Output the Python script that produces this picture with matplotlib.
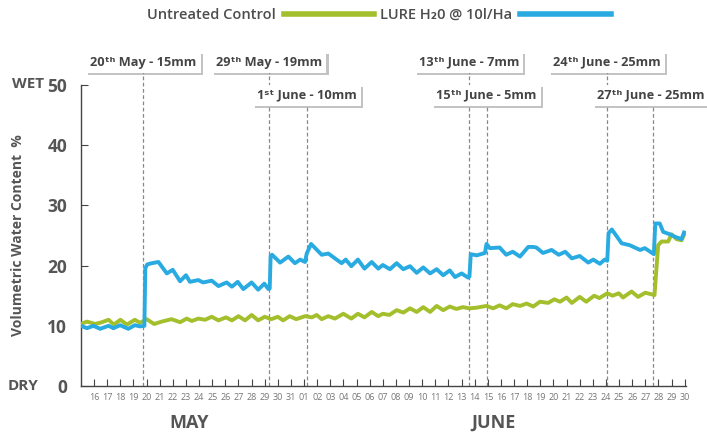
import matplotlib
matplotlib.use('Agg')
import matplotlib.pyplot as plt
import matplotlib.patheffects as pe

plt.rcParams['font.family'] = ['Open Sans', 'DejaVu Sans']

# days counted from 1 May (32 = 1 June)
control_day = [15.0, 15.45, 16.08, 16.6, 17.1, 17.5, 18.0, 18.5, 19.1, 19.5, 20.0, 20.57, 21.15, 21.9,
               22.55, 23.06, 23.44, 23.94, 24.45, 24.96, 25.47, 26.05, 26.5, 27.0, 27.5, 28.0, 28.5, 29.0,
               29.5, 30.0, 30.4, 30.9, 31.4, 32.07, 32.6, 32.96, 33.34, 33.84, 34.35, 34.99, 35.6, 36.1,
               36.6, 37.15, 37.65, 38.0, 38.5, 39.05, 39.56, 40.07, 40.58, 41.08, 41.6, 42.1, 42.6, 43.1,
               43.6, 44.1, 44.6, 45.1, 45.9, 46.4, 46.9, 47.4, 47.9, 48.45, 48.96, 49.46, 49.97, 50.6,
               51.06, 51.5, 52.0, 52.4, 53.0, 53.5, 54.1, 54.5, 55.1, 55.5, 55.98, 56.3, 56.95, 57.45,
               58.0, 58.7, 58.98, 59.24, 59.74, 60.0, 60.38, 60.76, 60.95]
control_vwc = [10.3, 10.7, 10.3, 10.6, 11.0, 10.2, 11.0, 10.2, 11.0, 10.5, 11.1, 10.3, 10.7, 11.1,
               10.6, 11.2, 10.8, 11.2, 11.0, 11.5, 10.9, 11.4, 10.9, 11.6, 10.9, 11.8, 10.9, 11.5,
               11.1, 11.5, 10.9, 11.6, 11.1, 11.6, 11.4, 11.8, 11.1, 11.6, 11.2, 12.0, 11.2, 12.0,
               11.4, 12.3, 11.6, 12.0, 11.8, 12.6, 12.2, 12.9, 12.3, 13.1, 12.3, 13.3, 12.6, 13.2,
               12.8, 13.1, 12.9, 13.0, 13.3, 12.9, 13.4, 12.9, 13.6, 13.3, 13.7, 13.2, 14.0, 13.8,
               14.4, 14.0, 14.7, 13.8, 14.8, 14.0, 15.0, 14.6, 15.4, 15.0, 15.4, 14.7, 15.7, 14.8,
               15.5, 15.1, 23.4, 24.0, 24.0, 25.2, 24.4, 24.2, 25.1]

lure_day = [15.0, 15.45, 15.95, 16.46, 17.1, 17.47, 17.98, 18.6, 19.1, 19.5, 19.83, 19.9, 20.05, 20.4,
            20.9, 21.54, 21.99, 22.55, 23.0, 23.3, 23.94, 24.3, 24.96, 25.47, 26.1, 26.5, 26.94, 27.37,
            28.0, 28.5, 28.97, 29.28, 29.38, 29.45, 29.56, 30.17, 30.8, 31.3, 31.7, 32.07, 32.2, 32.53,
            33.34, 33.85, 34.35, 34.86, 35.17, 35.6, 36.1, 36.6, 37.15, 37.65, 38.0, 38.54, 39.05, 39.56,
            40.07, 40.58, 41.08, 41.6, 42.1, 42.6, 43.1, 43.5, 44.0, 44.5, 44.6, 44.7, 45.15, 45.78,
            45.9, 46.15, 46.9, 47.4, 47.9, 48.45, 49.08, 49.46, 49.7, 50.2, 50.86, 51.4, 51.9, 52.4,
            53.0, 53.65, 54.03, 54.54, 54.9, 55.1, 55.2, 55.45, 56.2, 56.8, 57.6, 57.96, 58.65, 58.76,
            59.1, 59.36, 59.87, 60.25, 60.76, 60.95]
lure_vwc = [10.0, 9.6, 10.0, 9.5, 10.0, 9.6, 10.1, 9.5, 10.1, 9.9, 10.0, 19.6, 20.2, 20.4,
            20.6, 18.7, 19.3, 17.4, 18.4, 17.3, 17.6, 17.2, 17.5, 16.6, 17.2, 16.5, 17.3, 16.1,
            17.2, 16.0, 17.0, 16.1, 16.2, 21.6, 21.8, 20.5, 21.5, 20.4, 21.0, 20.6, 22.0, 23.6,
            21.8, 22.0, 21.2, 20.4, 21.0, 19.9, 21.0, 19.5, 20.6, 19.5, 20.1, 19.4, 20.4, 19.4,
            19.9, 18.8, 19.7, 18.7, 19.4, 18.4, 19.2, 18.1, 18.7, 18.0, 18.2, 21.9, 21.7, 22.1,
            23.6, 22.9, 23.0, 21.8, 22.3, 21.5, 23.1, 23.1, 23.0, 22.1, 22.6, 21.8, 22.3, 21.2,
            21.6, 20.5, 21.0, 20.3, 21.0, 20.8, 25.4, 26.0, 23.7, 23.4, 22.6, 22.9, 21.9, 27.0,
            27.0, 25.6, 25.2, 24.8, 24.4, 25.5]

tick_days = list(range(16, 62))
tick_labels = [str(d) for d in range(16, 32)] + ['%02d' % d for d in range(1, 31)]

rain_day = [19.75, 29.35, 32.2, 44.55, 45.9, 55.05, 58.6]
rain_text = ['20ᵗʰ May - 15mm', '29ᵗʰ May - 19mm', '1ˢᵗ June - 10mm', '13ᵗʰ June - 7mm',
             '15ᵗʰ June - 5mm', '24ᵗʰ June - 25mm', '27ᵗʰ June - 25mm']
rain_row = [0, 0, 1, 0, 1, 0, 1]

green = '#a3bf2c'
blue = '#29abe2'
dark = '#555555'

fig = plt.figure(figsize=(7.07, 4.32), dpi=100)
ax = fig.add_axes([81/707, 1-386/432, 605/707, 301/432])

ax.plot(control_day, control_vwc, color=green, lw=2.8, label='Untreated Control', zorder=3)
ax.plot(lure_day, lure_vwc, color=blue, lw=2.8, label='LURE H₂0 @ 10l/Ha', zorder=3)

ax.set_xlim(15.0, 61.1)
ax.set_ylim(0, 50)
ax.set_xticks(tick_days)
ax.set_xticklabels(tick_labels, fontsize=6.5, color='#777777')
ax.set_yticks([0, 10, 20, 30, 40, 50])
ax.tick_params(axis='x', direction='in', length=5, color='#444444', pad=5)
ax.tick_params(axis='y', direction='in', length=5, color='#444444', pad=10)
for lab in ax.get_yticklabels():
    lab.set_fontsize(12.5)
    lab.set_fontweight('bold')
    lab.set_color(dark)
for s in ['top', 'right']:
    ax.spines[s].set_visible(False)
for s in ['left', 'bottom']:
    ax.spines[s].set_color('#444444')
    ax.spines[s].set_linewidth(1)

# rainfall events
row_y = [53.8, 48.3]
row_bottom = [52.2, 46.7]
for d, t, r in zip(rain_day, rain_text, rain_row):
    ax.vlines(d, 0, row_bottom[r], colors='#888888', linestyles=(0, (3, 2)), lw=0.9,
              clip_on=False, zorder=2)
    tx = min(d, 58.4)  # keep the last box inside the picture
    txt = ax.text(tx, row_y[r], t, ha='center', va='center', fontsize=9.2, fontweight='bold',
                  color='#444444', clip_on=False, zorder=5,
                  bbox=dict(boxstyle='square,pad=0.32', facecolor='white', edgecolor='none'))
    txt.get_bbox_patch().set_path_effects([
        pe.SimplePatchShadow(offset=(1.5, -1.5), shadow_rgbFace='#888888', alpha=0.5),
        pe.Normal()])

fig.text(28/707, 1-84/432, 'WET', ha='center', va='center', fontsize=11, fontweight='bold', color=dark)
fig.text(23/707, 1-386/432, 'DRY', ha='center', va='center', fontsize=11, fontweight='bold', color=dark)
fig.text(18/707, 1-235/432, 'Volumetric Water Content  %', rotation=90, ha='center', va='center',
         fontsize=10, fontweight='bold', color=dark)
fig.text(189/707, 1-423/432, 'MAY', ha='center', va='center', fontsize=13, fontweight='bold', color=dark)
fig.text(493/707, 1-423/432, 'JUNE', ha='center', va='center', fontsize=13, fontweight='bold', color=dark)

leg = fig.legend(loc='center', bbox_to_anchor=(379/707, 1-15/432), ncol=2, frameon=False,
                 markerfirst=False, fontsize=10.5, handlelength=6.2, handletextpad=0.55,
                 columnspacing=0.4)
for t in leg.get_texts():
    t.set_color('#4d4d4d')
    t.set_fontweight('semibold')
for h in leg.legend_handles:
    h.set_linewidth(4)

fig.savefig('out.png', dpi=100)
